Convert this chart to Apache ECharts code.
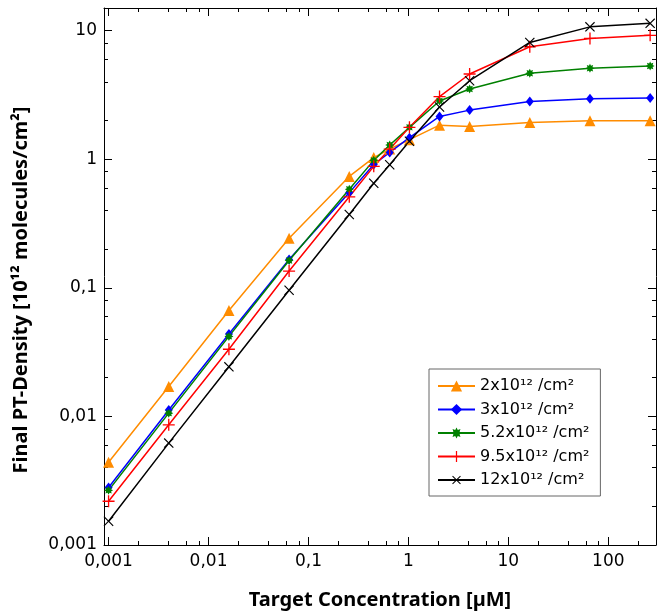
<!DOCTYPE html>
<html><head><meta charset="utf-8">
<script src="https://cdn.jsdelivr.net/npm/echarts@6/dist/echarts.min.js"></script>
<style>html,body{margin:0;padding:0;background:#fff}#c{width:660px;height:614px}</style>
</head><body><div id="c"></div><script>
// ---- data ----
const concentrations = [0.001, 0.004, 0.016, 0.064, 0.256, 0.45, 0.65, 1.024, 2.048, 4.096, 16.384, 65.536, 262.144];
const seriesNames = ['2x10¹² /cm²', '3x10¹² /cm²', '5.2x10¹² /cm²', '9.5x10¹² /cm²', '12x10¹² /cm²'];
const density2  = [0.0044, 0.0171, 0.0667, 0.243, 0.735, 1.03, 1.20, 1.42, 1.84, 1.80, 1.93, 1.99, 1.99];
const density3  = [0.0028, 0.0112, 0.0437, 0.166, 0.55, 0.91, 1.13, 1.47, 2.15, 2.41, 2.81, 2.95, 3.00];
const density52 = [0.00266, 0.0106, 0.0419, 0.163, 0.585, 0.98, 1.29, 1.77, 2.84, 3.52, 4.66, 5.10, 5.31];
const density95 = [0.00219, 0.0086, 0.0333, 0.135, 0.51, 0.88, 1.20, 1.77, 3.07, 4.60, 7.49, 8.70, 9.20];
const density12 = [0.00153, 0.0062, 0.0243, 0.0957, 0.372, 0.65, 0.906, 1.38, 2.55, 4.08, 8.09, 10.7, 11.4];
const xMajorTicks = [0.001, 0.01, 0.1, 1, 10, 100];
const xMinorTicks = [0.002,0.004,0.006,0.008, 0.02,0.04,0.06,0.08, 0.2,0.4,0.6,0.8, 2,4,6,8, 20,40,60,80, 200];
const yMajorTicks = [0.001, 0.01, 0.1, 1, 10];
const yMinorTicks = [0.002,0.004,0.006,0.008, 0.02,0.04,0.06,0.08, 0.2,0.4,0.6,0.8, 2,4,6,8];
const xTitle = 'Target Concentration [µM]';
const yTitle = 'Final PT-Density [10¹² molecules/cm²]';

// ---- styles ----
const X_MIN = 0.0009, X_MAX = 300, Y_MIN = 0.001, Y_MAX = 15;
function starPath(n, rIn) {
  let p = '';
  for (let k = 0; k < 2 * n; k++) {
    const a = Math.PI * k / n - Math.PI / 2;
    const r = (k % 2) ? rIn : 1;
    p += (k ? 'L' : 'M') + (r * Math.cos(a)).toFixed(3) + ',' + (r * Math.sin(a)).toFixed(3);
  }
  return 'path://' + p + 'Z';
}
const plusPath = 'path://M-0.11,-1L0.11,-1L0.11,-0.11L1,-0.11L1,0.11L0.11,0.11L0.11,1L-0.11,1L-0.11,0.11L-1,0.11L-1,-0.11L-0.11,-0.11Z';
const thinPlus = 'path://M-0.09,-1L0.09,-1L0.09,-0.09L1,-0.09L1,0.09L0.09,0.09L0.09,1L-0.09,1L-0.09,0.09L-1,0.09L-1,-0.09L-0.09,-0.09Z';
const styles = [
  {color: '#ff8c00', symbol: 'triangle', size: 11, rot: 0},
  {color: '#0000ff', symbol: 'diamond', size: [8, 10], rot: 0},
  {color: '#008000', symbol: starPath(8, 0.6), size: 9, rot: 0},
  {color: '#ff0000', symbol: plusPath, size: 12, rot: 0},
  {color: '#000000', symbol: thinPlus, size: 13, rot: 45}
];
const allData = [density2, density3, density52, density95, density12];
const fmt = v => String(v).replace('.', ',');
const tickFont = {fontFamily: 'DejaVu Sans', fontSize: 17, color: '#000'};

function xAx(grid, pos, major) {
  return {
    type: 'log', gridIndex: grid, position: pos, min: X_MIN, max: X_MAX,
    axisLine: {show: major, lineStyle: {color: '#000', width: 1}},
    axisTick: {show: true, inside: true, length: major ? 8 : 4, customValues: major ? xMajorTicks : xMinorTicks, lineStyle: {color: '#000', width: 1}},
    axisLabel: (major && pos === 'bottom') ? Object.assign({show: true, customValues: xMajorTicks, formatter: fmt, margin: 8}, tickFont) : {show: false},
    splitLine: {show: false}, minorTick: {show: false}
  };
}
function yAx(grid, pos, major) {
  return {
    type: 'log', gridIndex: grid, position: pos, min: Y_MIN, max: Y_MAX,
    axisLine: {show: major, lineStyle: {color: '#000', width: 1}},
    axisTick: {show: true, inside: true, length: major ? 8 : 4, customValues: major ? yMajorTicks : yMinorTicks, lineStyle: {color: '#000', width: 1}},
    axisLabel: (major && pos === 'left') ? Object.assign({show: true, customValues: yMajorTicks, formatter: fmt, margin: 7}, tickFont) : {show: false},
    splitLine: {show: false}, minorTick: {show: false}
  };
}

const gridRect = {left: 104, right: 4, top: 8, bottom: 69};
const option = {
  animation: false,
  backgroundColor: '#fff',
  grid: [Object.assign({}, gridRect), Object.assign({}, gridRect)],
  xAxis: [xAx(0, 'bottom', true), xAx(0, 'top', true), xAx(1, 'bottom', false), xAx(1, 'top', false)],
  yAxis: [yAx(0, 'left', true), yAx(0, 'right', true), yAx(1, 'left', false), yAx(1, 'right', false)],
  legend: {
    orient: 'vertical', left: 429, top: 369,
    itemWidth: 37, itemHeight: 14, itemGap: 7.5,
    padding: [9, 11, 8, 8],
    borderColor: '#666', borderWidth: 1, backgroundColor: '#fff',
    textStyle: {fontFamily: 'DejaVu Sans', fontSize: 16, color: '#000', lineHeight: 14},
    data: seriesNames
  },
  graphic: [
    {type: 'text', x: 380, y: 600, style: {text: xTitle, font: 'bold 20px "Noto Sans"', fill: '#000', align: 'center', verticalAlign: 'middle'}},
    {type: 'text', x: 21, y: 290, rotation: Math.PI / 2, style: {text: yTitle, font: 'bold 20px "Noto Sans"', fill: '#000', align: 'center', verticalAlign: 'middle'}}
  ],
  series: allData.map((vals, i) => ({
    type: 'line', name: seriesNames[i], xAxisIndex: 0, yAxisIndex: 0,
    data: concentrations.map((x, j) => [x, vals[j]]),
    symbol: styles[i].symbol, symbolSize: styles[i].size, symbolRotate: styles[i].rot,
    color: styles[i].color,
    lineStyle: {color: styles[i].color, width: 1.5},
    itemStyle: {color: styles[i].color, borderWidth: 0},
    emphasis: {disabled: true}
  }))
};
const chart = echarts.init(document.getElementById('c'), null, {renderer: 'canvas'});
chart.setOption(option);
</script></body></html>
